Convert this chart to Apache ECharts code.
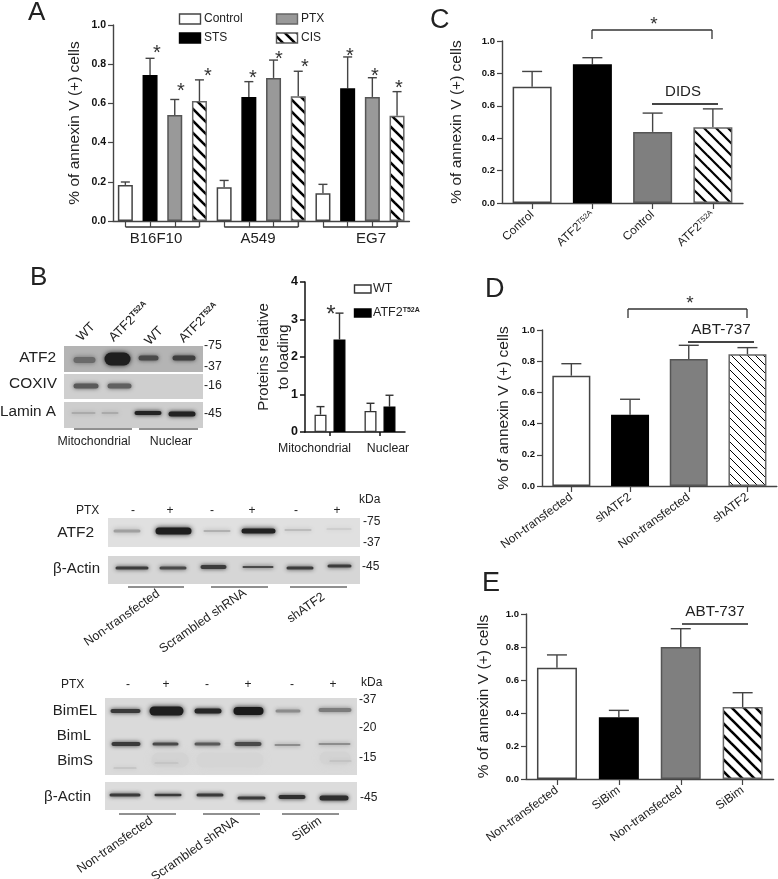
<!DOCTYPE html>
<html>
<head>
<meta charset="utf-8">
<style>
  html, body { margin: 0; padding: 0; background: #fff; }
  #chart { width: 778px; height: 879px; filter: blur(0.35px); }
</style>
<script src="https://cdn.jsdelivr.net/npm/echarts@6/dist/echarts.min.js"></script>
</head>
<body>
<div id="chart"></div>
<script>
// panel A
const aGroups = ['B16F10', 'A549', 'EG7']
const aTreatments = ['Control', 'STS', 'PTX', 'CIS']
const aMeans = [0.184, 0.745, 0.541, 0.612, 0.172, 0.633, 0.73, 0.636, 0.141, 0.677, 0.633, 0.537]
const aErrTops = [0.199, 0.83, 0.62, 0.72, 0.207, 0.711, 0.821, 0.764, 0.187, 0.837, 0.731, 0.66]
// panel B, bar part
const bCategories = ['Mitochondrial', 'Nuclear']
const bWT = [0.463, 0.561]
const bWTTops = [0.677, 0.766]
const bMut = [2.468, 0.677]
const bMutTops = [3.17, 0.98]
// panel C
const cCategories = ['Control', 'ATF2T52A', 'Control', 'ATF2T52A']
const cMeans = [0.718, 0.856, 0.439, 0.468]
const cErrTops = [0.812, 0.897, 0.555, 0.581]
// panel D
const dCategories = ['Non-transfected', 'shATF2', 'Non-transfected', 'shATF2']
const dMeans = [0.707, 0.457, 0.814, 0.844]
const dErrTops = [0.784, 0.556, 0.902, 0.887]
// panel E
const eCategories = ['Non-transfected', 'SiBim', 'Non-transfected', 'SiBim']
const eMeans = [0.675, 0.374, 0.8, 0.436]
const eErrTops = [0.752, 0.416, 0.911, 0.523]

const FONT = '"Liberation Sans", Arial, sans-serif'
const INK = '#222'
const LINE = '#444'

// diagonal hatch tile, used as a canvas pattern
const hatch = (step, lw) => {
  const c = document.createElement('canvas')
  c.width = step
  c.height = step
  const g = c.getContext('2d')
  g.fillStyle = '#fff'
  g.fillRect(0, 0, step, step)
  g.strokeStyle = '#000'
  g.lineWidth = lw
  for (let k = -1; k <= 1; k++) {
    g.beginPath()
    g.moveTo(k * step - 1, -1)
    g.lineTo(k * step + step + 1, step + 1)
    g.stroke()
  }
  return { image: c, repeat: 'repeat' }
}

const fills = (grey, hatched) => [
  { color: '#fff', borderColor: LINE, borderWidth: 1.5 },
  { color: '#000', borderColor: '#000', borderWidth: 1.5 },
  { color: grey, borderColor: '#555', borderWidth: 1.5 },
  { color: hatched, borderColor: '#666', borderWidth: 1.5 }
]

const barSeries = (idx, means, styles, width) => ({
  type: 'bar',
  xAxisIndex: idx,
  yAxisIndex: idx,
  barWidth: width,
  z: 2,
  data: means.map((v, i) => ({ value: v, itemStyle: styles[i % styles.length] }))
})

// only the upper arm of the error bar is drawn
const errSeries = (idx, means, tops, capW, dx, color) => ({
  type: 'custom',
  xAxisIndex: idx,
  yAxisIndex: idx,
  z: 1,
  encode: { x: 0, y: [1, 2] },
  data: means.map((v, i) => [i, v, tops[i]]),
  renderItem: (params, api) => {
    const a = api.coord([api.value(0), api.value(1)])
    const b = api.coord([api.value(0), api.value(2)])
    const st = { stroke: color, lineWidth: 1.4, fill: null }
    return {
      type: 'group',
      children: [
        { type: 'line', shape: { x1: a[0] + dx, y1: a[1], x2: b[0] + dx, y2: b[1] }, style: st },
        { type: 'line', shape: { x1: b[0] + dx - capW / 2, y1: b[1], x2: b[0] + dx + capW / 2, y2: b[1] }, style: st }
      ]
    }
  }
})

const yAxis = (idx, name, gap, size, labelSize) => ({
  type: 'value',
  gridIndex: idx,
  min: 0,
  max: 1,
  interval: 0.2,
  name: name,
  nameLocation: 'middle',
  nameGap: gap,
  nameTextStyle: { fontFamily: FONT, fontSize: size, color: INK },
  axisLine: { show: true, lineStyle: { color: LINE, width: 1.4 } },
  axisTick: { show: true, length: 5, lineStyle: { color: LINE, width: 1.2 } },
  splitLine: { show: false },
  axisLabel: {
    fontFamily: FONT, fontSize: labelSize, fontWeight: 'bold', color: '#111', margin: 7,
    formatter: v => v.toFixed(1)
  }
})

const xAxis = (idx, cats, rotate, labelSize = 12) => ({
  type: 'category',
  gridIndex: idx,
  data: cats,
  axisLine: { show: true, onZero: false, lineStyle: { color: LINE, width: 1.4 } },
  axisTick: { show: true, length: 6, alignWithLabel: true, lineStyle: { color: LINE, width: 1.2 } },
  axisLabel: {
    show: rotate > 0,
    rotate: rotate,
    interval: 0,
    margin: 10,
    fontFamily: FONT,
    fontSize: labelSize,
    color: INK,
    formatter: v => (v === 'ATF2T52A' ? '{m|ATF2}{s|T52A}' : v),
    rich: {
      m: { fontFamily: FONT, fontSize: labelSize, color: INK },
      s: { fontFamily: FONT, fontSize: 7.5, color: INK, verticalAlign: 'top' }
    }
  }
})

// small drawing helpers for everything that is not a data mark
const gfx = []
const txt = (x, y, text, size, o = {}) => gfx.push({
  type: 'text',
  x: x,
  y: y,
  rotation: (o.rot || 0) * Math.PI / 180,
  silent: true,
  style: {
    text: text,
    fontFamily: FONT,
    fontSize: size,
    fontWeight: o.bold ? 'bold' : 'normal',
    fill: o.fill || INK,
    align: o.align || 'left',
    verticalAlign: 'middle',
    rich: o.rich
  }
})
const seg = (x1, y1, x2, y2, w = 1, color = '#222') => gfx.push({
  type: 'line',
  silent: true,
  shape: { x1: x1, y1: y1, x2: x2, y2: y2 },
  style: { stroke: color, lineWidth: w }
})
const box = (x, y, w, h, fill, stroke, lw = 1.4) => gfx.push({
  type: 'rect',
  silent: true,
  shape: { x: x, y: y, width: w, height: h },
  style: { fill: fill, stroke: stroke, lineWidth: lw }
})
const star = (x, y, size = 20) => txt(x, y + size * 0.2, '*', size, { align: 'center', fill: '#333' })
const band = (x1, x2, y, h, c, blur = 4) => gfx.push({
  type: 'rect',
  silent: true,
  shape: { x: x1 + 1.5, y: y - h / 2 + 0.5, width: x2 - x1 - 3, height: h - 1, r: h / 2 },
  style: { fill: c, shadowBlur: blur, shadowColor: c }
})
const supRich = (big, small) => ({
  m: { fontFamily: FONT, fontSize: big, color: INK },
  s: { fontFamily: FONT, fontSize: small, color: INK, fontWeight: 'bold', verticalAlign: 'top' }
})

// panel letters
txt(28, 13, 'A', 26)
txt(30, 278, 'B', 26)
txt(430, 21, 'C', 27)
txt(485, 290, 'D', 27)
txt(482, 584, 'E', 27)

// A: legend, brackets, stars
const aHatch = hatch(12, 2.6)
box(179.5, 14, 21, 10, '#fff', LINE)
box(179.5, 33, 21, 10, '#000', '#000')
box(276.5, 14, 21, 10, '#999', '#666')
box(276.5, 33, 21, 10, aHatch, '#555')
txt(204, 19, 'Control', 12)
txt(204, 38, 'STS', 12)
txt(301, 19, 'PTX', 12)
txt(301, 38, 'CIS', 12)
;[[125.5, 156, 0], [224.3, 258, 1], [323, 371, 2]].forEach(([x, c, i]) => {
  seg(x, 227, x + 74, 227, 1.3, '#333')
  seg(x + 74, 221, x + 74, 227, 1.2, '#333')
  txt(c, 239, aGroups[i], 15, { align: 'center' })
})
;[[157, 49], [181, 87], [208, 72], [253, 74], [279, 55], [305, 63], [350, 52], [375, 72], [399, 84]].forEach(p => star(p[0], p[1]))

// B: bar panel extras
box(354.5, 285, 16.5, 8, '#fff', '#333')
box(354.5, 309, 16.5, 8, '#000', '#000')
txt(373, 289, 'WT', 12.5)
txt(373, 313, '{m|ATF2}{s|T52A}', 12.5, { rich: supRich(12.5, 7) })
txt(314.5, 449, bCategories[0], 12.3, { align: 'center' })
txt(388, 449, bCategories[1], 12.3, { align: 'center' })
star(331, 311, 24)

// C, D, E annotations
seg(592, 30, 712, 30, 1.3, '#333')
seg(592, 30, 592, 39, 1.3, '#333')
seg(712, 30, 712, 39, 1.3, '#333')
star(654, 21, 19)
txt(683, 92, 'DIDS', 15, { align: 'center' })
seg(652, 104, 718, 104, 2, '#444')

seg(628, 309, 747, 309, 1.3, '#333')
seg(628, 309, 628, 318, 1.3, '#333')
seg(747, 309, 747, 318, 1.3, '#333')
star(690, 300, 19)
txt(721, 330, 'ABT-737', 15.3, { align: 'center' })
seg(688, 342, 754, 342, 2, '#444')

txt(715, 612, 'ABT-737', 15.3, { align: 'center' })
seg(682, 624, 748, 624, 1.5, '#222')

// B: first blot
box(64, 346, 139, 26, '#b4b4b4', null, 0)
box(64, 374, 139, 25, '#cfcfcf', null, 0)
box(64, 402, 139, 26, '#cdcdcd', null, 0)
band(72, 97, 360, 7, '#6a6a6a', 5)
band(103, 132, 359, 14, '#1e1e1e', 5)
band(137, 160, 358, 6, '#4a4a4a')
band(171, 197, 358, 6, '#3f3f3f')
band(72, 100, 386, 6, '#5a5a5a')
band(106, 133, 386, 6, '#606060')
band(70, 97, 413, 3, '#aaa')
band(100, 120, 413, 3, '#aaa')
band(133, 163, 413, 5, '#222')
band(167, 197, 414, 6, '#222')
txt(56, 358, 'ATF2', 15.5, { align: 'right' })
txt(57, 384, 'COXIV', 15.4, { align: 'right' })
txt(56, 412, 'Lamin A', 15.3, { align: 'right' })
txt(204, 346, '-75', 12.3)
txt(204, 367, '-37', 12.3)
txt(204, 386, '-16', 12.3)
txt(204, 414, '-45', 12.3)
txt(86, 332, 'WT', 13, { align: 'center', rot: 45 })
txt(129, 322, '{m|ATF2}{s|T52A}', 13, { align: 'center', rot: 45, rich: supRich(13, 8) })
txt(154, 336, 'WT', 13, { align: 'center', rot: 45 })
txt(199, 323, '{m|ATF2}{s|T52A}', 13, { align: 'center', rot: 45, rich: supRich(13, 8) })
seg(74, 429, 132, 429)
seg(139, 429, 198, 429)
txt(94, 442, 'Mitochondrial', 12.3, { align: 'center' })
txt(171, 442, 'Nuclear', 12.3, { align: 'center' })

// middle blot
txt(359, 500, 'kDa', 12)
txt(76, 511, 'PTX', 12)
;[[133, '-'], [170, '+'], [212, '-'], [252, '+'], [296, '-'], [337, '+']].forEach(p => txt(p[0], 511, p[1], 12, { align: 'center' }))
box(108, 518, 252, 29, '#e0e0e0', null, 0)
box(108, 556, 252, 28, '#d6d6d6', null, 0)
band(112, 142, 531, 4, '#a0a0a0', 5)
band(154, 193, 531, 8, '#1e1e1e', 5)
band(202, 232, 531, 3, '#b0b0b0')
band(240, 277, 531, 6, '#222', 5)
band(283, 313, 530, 3, '#bcbcbc')
band(325, 353, 529, 2, '#c2c2c2')
band(114, 150, 568, 4, '#3c3c3c')
band(158, 188, 568, 4, '#4a4a4a')
band(199, 228, 567, 5, '#3c3c3c')
band(241, 275, 567, 3, '#4a4a4a')
band(285, 315, 568, 4, '#3c3c3c')
band(326, 353, 566, 4, '#3c3c3c')
txt(94, 533, 'ATF2', 15.5, { align: 'right' })
txt(100, 569, 'β-Actin', 15, { align: 'right' })
txt(363, 522, '-75', 12)
txt(363, 543, '-37', 12)
txt(362, 567, '-45', 12)
seg(128, 587, 184, 587)
seg(211, 587, 268, 587)
seg(290, 587, 347, 587)
txt(122, 618, 'Non-transfected', 12.5, { align: 'center', rot: 35 })
txt(203, 621, 'Scrambled shRNA', 12.5, { align: 'center', rot: 35 })
txt(306, 608, 'shATF2', 12.5, { align: 'center', rot: 35 })

// bottom blot
txt(361, 683, 'kDa', 12)
txt(61, 685, 'PTX', 12)
;[[128, '-'], [166, '+'], [207, '-'], [248, '+'], [292, '-'], [333, '+']].forEach(p => txt(p[0], 685, p[1], 12, { align: 'center' }))
box(105, 698, 252, 77, '#dadada', null, 0)
box(105, 782, 252, 28, '#dcdcdc', null, 0)
// faint smears under the BimL row
band(150, 190, 760, 16, '#d3d3d3', 10)
band(195, 265, 760, 16, '#d5d5d5', 10)
band(318, 352, 758, 14, '#d3d3d3', 10)
band(109, 142, 711, 5, '#3a3a3a')
band(148, 185, 711, 10, '#1e1e1e', 5)
band(193, 223, 711, 6, '#262626')
band(232, 265, 711, 9, '#1a1a1a', 5)
band(274, 302, 711, 4, '#8c8c8c')
band(317, 353, 710, 5, '#7c7c7c')
band(110, 142, 744, 5, '#3a3a3a')
band(151, 180, 744, 4, '#4a4a4a')
band(193, 222, 744, 4, '#5a5a5a')
band(233, 263, 744, 5, '#4a4a4a')
band(273, 302, 745, 2.5, '#7c7c7c')
band(317, 352, 744, 2.5, '#7c7c7c')
band(112, 138, 768, 2, '#b8b8b8')
band(153, 180, 763, 2, '#bcbcbc')
band(328, 353, 761, 2, '#b8b8b8')
band(108, 142, 795, 4, '#3a3a3a')
band(153, 183, 795, 3.5, '#3a3a3a')
band(195, 225, 795, 4, '#3a3a3a')
band(236, 267, 798, 4, '#3a3a3a')
band(277, 307, 797, 5, '#2e2e2e')
band(318, 350, 798, 6, '#2e2e2e')
txt(97, 711, 'BimEL', 15, { align: 'right' })
txt(91, 736, 'BimL', 15, { align: 'right' })
txt(93, 761, 'BimS', 15, { align: 'right' })
txt(91, 797, 'β-Actin', 15, { align: 'right' })
txt(359, 700, '-37', 12)
txt(359, 728, '-20', 12)
txt(359, 758, '-15', 12)
txt(360, 798, '-45', 12)
seg(119, 814, 176, 814)
seg(203, 814, 260, 814)
seg(282, 814, 339, 814)
txt(115, 845, 'Non-transfected', 12.5, { align: 'center', rot: 35 })
txt(195, 849, 'Scrambled shRNA', 12.5, { align: 'center', rot: 35 })
txt(307, 829, 'SiBim', 12.5, { align: 'center', rot: 35 })

// y axis of the small B chart is heavier than the others
const bY = yAxis(1, 'Proteins relative\nto loading', 11, 15, 12.5)
bY.max = 4
bY.interval = 1
bY.nameMoveOverlap = false
bY.axisLine.lineStyle = { color: '#111', width: 1.5 }
bY.axisTick.lineStyle = { color: '#111', width: 1.5 }
bY.axisLabel.formatter = v => String(v)
bY.nameTextStyle.lineHeight = 20
const bX = xAxis(1, bCategories, 0)
bX.axisLine.lineStyle = { color: '#111', width: 1.5 }
bX.axisTick.lineStyle = { color: '#111', width: 1.5 }
bX.axisTick.length = 4

const aX = xAxis(0, aGroups.flatMap(g => aTreatments.map(t => g + ' ' + t)), 0)

const option = {
  animation: false,
  backgroundColor: '#fff',
  graphic: { elements: gfx },
  grid: [
    { left: 113, top: 25, width: 296.4, height: 196 },
    { left: 305, top: 282, width: 100, height: 150 },
    { left: 502, top: 41, width: 241, height: 162 },
    { left: 542, top: 330, width: 234.8, height: 156 },
    { left: 526, top: 614, width: 247.6, height: 165 }
  ],
  xAxis: [
    aX,
    bX,
    xAxis(2, cCategories, 43, 11.8),
    xAxis(3, dCategories, 36),
    xAxis(4, eCategories, 36)
  ],
  yAxis: [
    yAxis(0, '% of annexin V (+) cells', 30, 15.5, 10.5),
    bY,
    yAxis(2, '% of annexin V (+) cells', 37, 15.5, 9.5),
    yAxis(3, '% of annexin V (+) cells', 30, 15.5, 9.5),
    yAxis(4, '% of annexin V (+) cells', 34, 15.5, 9.5)
  ],
  series: [
    barSeries(0, aMeans, fills('#999', aHatch), 15),
    errSeries(0, aMeans, aErrTops, 9, 0, LINE),
    { ...barSeries(1, bWT, [{ color: '#fff', borderColor: '#333', borderWidth: 1.3 }], 12), barGap: '58%' },
    errSeries(1, bWT, bWTTops, 8, -9.5, '#333'),
    { ...barSeries(1, bMut, [{ color: '#000', borderColor: '#000', borderWidth: 1.3 }], 12), barGap: '58%' },
    errSeries(1, bMut, bMutTops, 8, 9.5, '#333'),
    barSeries(2, cMeans, fills('#7f7f7f', hatch(12, 2.2)), 39),
    errSeries(2, cMeans, cErrTops, 20, 0, LINE),
    barSeries(3, dMeans, fills('#7f7f7f', hatch(8, 1)), 38),
    errSeries(3, dMeans, dErrTops, 20, 0, LINE),
    barSeries(4, eMeans, fills('#7f7f7f', hatch(12, 2.6)), 40),
    errSeries(4, eMeans, eErrTops, 20, 0, LINE)
  ]
}

const myChart = echarts.init(document.getElementById('chart'))
myChart.setOption(option)
</script>
</body>
</html>
